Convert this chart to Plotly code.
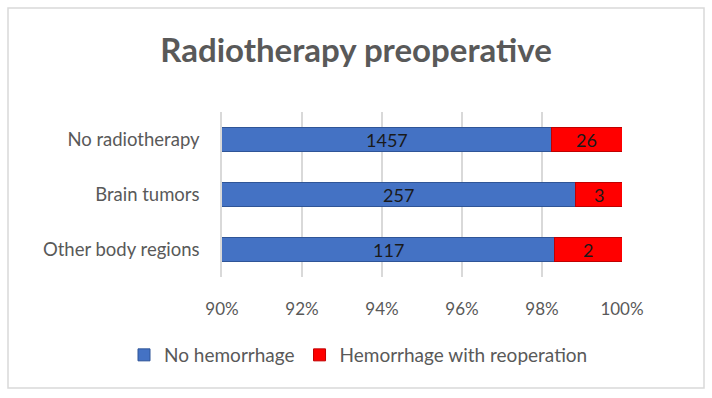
import plotly.graph_objects as go

categories = ["No radiotherapy", "Brain tumors", "Other body regions"]
no_hemorrhage = [1457, 257, 117]
hemorrhage_reop = [26, 3, 2]
tick_vals = [90, 92, 94, 96, 98, 100]
tick_text = ["90%", "92%", "94%", "96%", "98%", "100%"]
axis_min = 90

FONT = "Lato, 'Open Sans', sans-serif"
GRAY = "#595959"
TXT = "#1a1a1a"

fig = go.Figure()
fig.add_trace(go.Bar(
    y=categories, x=no_hemorrhage, orientation="h", name="No hemorrhage",
    marker=dict(color="#4472C4", line=dict(color="#2F5597", width=1)),
))
fig.add_trace(go.Bar(
    y=categories, x=hemorrhage_reop, orientation="h", name="Hemorrhage with reoperation",
    marker=dict(color="#FF0000", line=dict(color="#C00000", width=1)),
))

# value labels centred on the visible part of each segment
for cat, n, h in zip(categories, no_hemorrhage, hemorrhage_reop):
    share = 100 * n / (n + h)
    fig.add_annotation(x=(axis_min + share) / 2, y=cat, text=str(n), showarrow=False,
                       font=dict(color=TXT, size=18, family=FONT))
    fig.add_annotation(x=(share + 100) / 2, y=cat, text=str(h), showarrow=False,
                       font=dict(color=TXT, size=18, family=FONT))

fig.update_layout(
    width=712, height=398,
    barmode="stack", barnorm="percent", bargap=0.56,
    paper_bgcolor="white", plot_bgcolor="white",
    margin=dict(l=222, r=90, t=112, b=121),
    font=dict(family=FONT, color=GRAY, size=17),
    title=dict(text="<b>Radiotherapy preoperative</b>", x=0.5, xref="container",
               y=1 - 50 / 398, yanchor="middle", xanchor="center",
               font=dict(size=33, color=GRAY, family=FONT)),
    legend=dict(orientation="h", xref="paper", yref="paper",
                x=(124 - 222) / 400, xanchor="left",
                y=(277 - 355) / 165, yanchor="middle",
                font=dict(size=19, color=GRAY), traceorder="normal",
                itemwidth=30),
    showlegend=True,
)
fig.update_xaxes(range=[axis_min, 100], tickvals=tick_vals, ticktext=tick_text,
                 showgrid=True, gridcolor="#d9d9d9", gridwidth=1.5,
                 zeroline=False, showline=False, ticks="",
                 ticklabelstandoff=20, tickfont=dict(size=17, color=GRAY))
fig.update_yaxes(autorange="reversed", showgrid=True, gridcolor="#e3e3e3",
                 showline=True, linecolor="#d9d9d9", linewidth=1.5,
                 ticks="", ticklabelstandoff=17, tickfont=dict(size=18.5, color=GRAY))

fig.add_shape(type="rect", xref="paper", yref="paper",
              x0=(8 - 222) / 400, x1=(704 - 222) / 400,
              y0=(277 - 388) / 165, y1=(277 - 8) / 165,
              line=dict(color="#d9d9d9", width=1.5), fillcolor="rgba(0,0,0,0)", layer="below")

fig.write_html("out.html")
